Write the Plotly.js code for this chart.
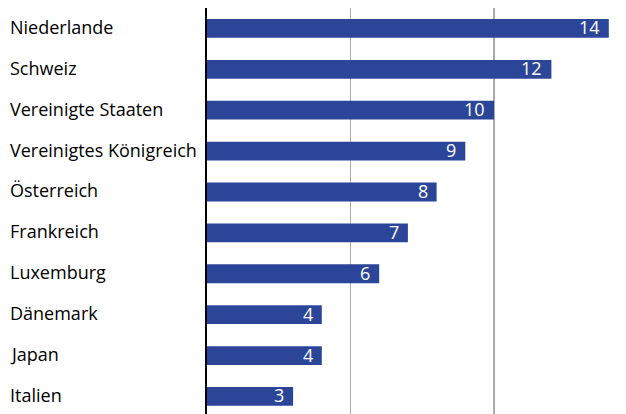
<!DOCTYPE html>
<html><head><meta charset="utf-8">
<script src="https://cdn.plot.ly/plotly-3.0.1.min.js"></script>
<style>html,body{margin:0;padding:0;background:#fff}#chart{width:626px;height:414px}</style>
</head><body><div id="chart"></div>
<script>
const categories = ["Niederlande","Schweiz","Vereinigte Staaten","Vereinigtes Königreich","Österreich","Frankreich","Luxemburg","Dänemark","Japan","Italien"];
const values = [14,12,10,9,8,7,6,4,4,3];
const tickVals = [0,5,10,15];

const fontFam = "Open Sans, sans-serif";
const marginL = 207, W = 626;
const plotW = W - marginL;

const annotations = [];
categories.forEach((c,i)=>{
  annotations.push({xref:'paper', yref:'y', x:(8-marginL)/plotW, y:c, text:c, showarrow:false,
    xanchor:'left', yanchor:'middle', yshift:1.5, font:{family:fontFam, size:18, color:'#000000'}});
  annotations.push({xref:'x', yref:'y', x:values[i], y:c, text:String(values[i]), showarrow:false,
    xanchor:'right', yanchor:'middle', xshift:-7, yshift:1, font:{family:fontFam, size:18, color:'#ffffff'}});
});

Plotly.newPlot('chart', [{
  type:'bar', orientation:'h', x:values, y:categories,
  marker:{color:'rgb(43,69,153)'}, hoverinfo:'none'
}], {
  width:626, height:414,
  margin:{l:marginL, r:0, t:7.5, b:0},
  paper_bgcolor:'#fff', plot_bgcolor:'#fff',
  bargap:0.54,
  showlegend:false,
  xaxis:{range:[0, plotW/28.7], tickvals:tickVals, showticklabels:false, showgrid:true,
    gridcolor:'#aaaaaa', gridwidth:1.3, zeroline:false, showline:false, ticks:''},
  yaxis:{type:'category', categoryarray:categories, categoryorder:'array', range:[9.43,-0.5],
    showticklabels:false, showgrid:false, zeroline:false, showline:true, linecolor:'#000', linewidth:2, ticks:''},
  annotations:annotations
}, {displayModeBar:false, staticPlot:true});
</script></body></html>
